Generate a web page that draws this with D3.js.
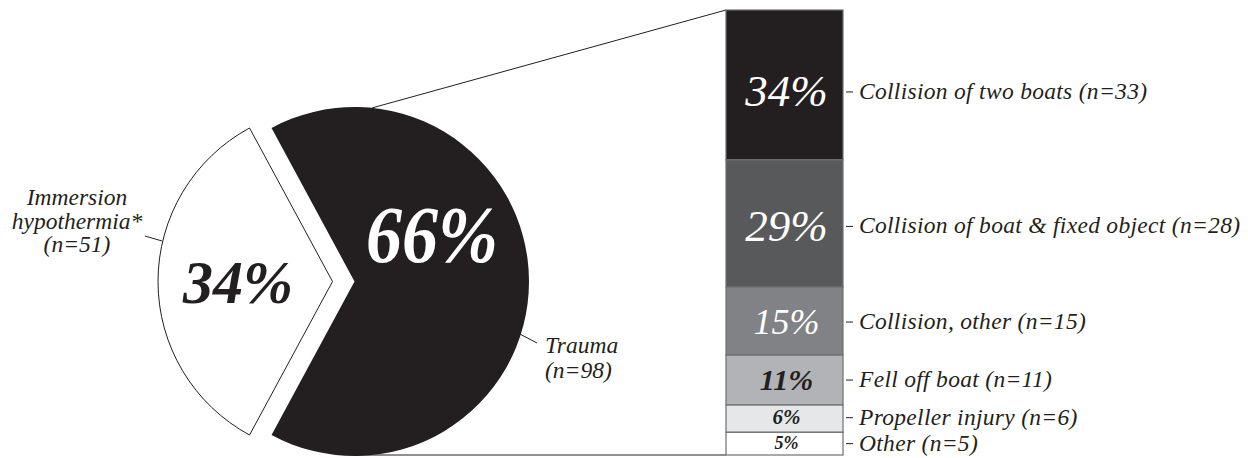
<!DOCTYPE html>
<html>
<head>
<meta charset="utf-8">
<script src="https://cdn.jsdelivr.net/npm/d3@7"></script>
<style>
  html, body { margin: 0; padding: 0; background: #fff; }
  svg { display: block; }
  text { font-family: "Liberation Serif", "DejaVu Serif", serif; font-style: italic; }
</style>
</head>
<body>
<svg id="chart" width="1248" height="458"></svg>
<script>
// Deaths by cause: immersion hypothermia vs trauma
const pieLabels = ["Immersion hypothermia*", "Trauma"];
const pieCounts = [51, 98];
const piePercents = ["34%", "66%"];

// Breakdown of trauma deaths
const traumaCauses = [
  "Collision of two boats",
  "Collision of boat & fixed object",
  "Collision, other",
  "Fell off boat",
  "Propeller injury",
  "Other"
];
const traumaCounts = [33, 28, 15, 11, 6, 5];
const traumaPercents = ["34%", "29%", "15%", "11%", "6%", "5%"];

const ink = "#231f20";
const barFills = ["#231f20", "#58595b", "#808285", "#b1b3b6", "#e6e7e8", "#ffffff"];
const barTextFills = ["#fff", "#fff", "#fff", "#231f20", "#231f20", "#231f20"];
const barFontSizes = [45, 45, 36, 30, 21, 18];
const barFontWeights = [400, 400, 400, 700, 700, 700];
const labelNudge = [7, 3, 1, 0, -1, 0];

const svg = d3.select("#chart");

// ---- Exploded pie ----
const cx = 343.5, cy = 281.5, r = 174.5, explode = 11;
const total = d3.sum(pieCounts);
const whiteShare = pieCounts[0] / total;
// centre the hypothermia slice on the left side
const start = 1.5 * Math.PI - whiteShare * Math.PI;
const pie = d3.pie().sort(null).startAngle(start).endAngle(start + 2 * Math.PI);
const arcs = pie(pieCounts);
const arc = d3.arc().innerRadius(0).outerRadius(r);

const offset = d => {
  const m = (d.startAngle + d.endAngle) / 2;
  return [explode * Math.sin(m), -explode * Math.cos(m)];
};

const slices = svg.append("g").attr("class", "pie");
slices.selectAll("path")
  .data(arcs)
  .join("path")
  .attr("transform", d => { const o = offset(d); return `translate(${cx + o[0]},${cy + o[1]})`; })
  .attr("d", arc)
  .attr("fill", (d, i) => i === 0 ? "#fff" : ink)
  .attr("stroke", ink)
  .attr("stroke-width", (d, i) => i === 0 ? 1 : 0);

// big percentages inside the slices
const pctPos = [[238, 303, 62, ink, 0.97], [432, 262, 80, "#fff", 0.9]];
slices.selectAll("text.pct")
  .data(arcs)
  .join("text")
  .attr("class", "pct")
  .attr("transform", (d, i) => `translate(${pctPos[i][0]},${pctPos[i][1]}) scale(${pctPos[i][4]},1)`)
  .attr("text-anchor", "middle")
  .attr("font-size", (d, i) => pctPos[i][2])
  .attr("font-weight", "bold")
  .attr("fill", (d, i) => pctPos[i][3])
  .text((d, i) => piePercents[i]);

// ---- Stacked bar ----
const barX0 = 726, barX1 = 843;
const y = d3.scaleLinear().domain([0, d3.sum(traumaCounts)]).range([10, 455]);
const cum = d3.cumsum(traumaCounts);
const segs = traumaCounts.map((v, i) => ({ i, y0: cum[i] - v, y1: cum[i] }));
const mid = d => (y(d.y0) + y(d.y1)) / 2;

// connector lines from the trauma slice to the bar
const black = arcs[1];
const bo = offset(black);
const bcx = cx + bo[0], bcy = cy + bo[1];
const ptOnArc = a => [bcx + r * Math.sin(a), bcy - r * Math.cos(a)];
const topPt = ptOnArc(5.8 * Math.PI / 180);
const botPt = ptOnArc(178.2 * Math.PI / 180);
svg.append("line")
  .attr("x1", topPt[0]).attr("y1", topPt[1])
  .attr("x2", barX0).attr("y2", y(0))
  .attr("stroke", ink).attr("stroke-width", 1);
svg.append("line")
  .attr("x1", botPt[0]).attr("y1", y(d3.sum(traumaCounts)))
  .attr("x2", barX0).attr("y2", y(d3.sum(traumaCounts)))
  .attr("stroke", ink).attr("stroke-width", 1);

const bar = svg.append("g").attr("class", "bar");
bar.selectAll("rect")
  .data(segs)
  .join("rect")
  .attr("x", barX0)
  .attr("width", barX1 - barX0)
  .attr("y", d => y(d.y0))
  .attr("height", d => y(d.y1) - y(d.y0))
  .attr("fill", d => barFills[d.i])
  .attr("stroke", "#6d6e71")
  .attr("stroke-width", 1.2);

bar.selectAll("text.seg")
  .data(segs)
  .join("text")
  .attr("class", "seg")
  .attr("x", (barX0 + barX1) / 2 + 2)
  .attr("y", d => mid(d) + labelNudge[d.i])
  .attr("dy", d => barFontSizes[d.i] * 0.32)
  .attr("text-anchor", "middle")
  .attr("font-size", d => barFontSizes[d.i])
  .attr("font-weight", d => barFontWeights[d.i])
  .attr("fill", d => barTextFills[d.i])
  .text(d => traumaPercents[d.i]);

// category labels with short ticks
const lab = svg.append("g").attr("class", "labels");
lab.selectAll("line")
  .data(segs)
  .join("line")
  .attr("x1", barX1 + 3).attr("x2", barX1 + 10)
  .attr("y1", d => mid(d) + labelNudge[d.i])
  .attr("y2", d => mid(d) + labelNudge[d.i])
  .attr("stroke", ink).attr("stroke-width", 1);
lab.selectAll("text")
  .data(segs)
  .join("text")
  .attr("x", barX1 + 16)
  .attr("y", d => mid(d) + labelNudge[d.i])
  .attr("dy", 7)
  .attr("font-size", 23.5)
  .attr("letter-spacing", 0.3)
  .attr("fill", ink)
  .text(d => `${traumaCauses[d.i]} (n=${traumaCounts[d.i]})`);

// pie slice labels
const hypo = svg.append("g");
const hypoLines = ["Immersion", "hypothermia*", `(n=${pieCounts[0]})`];
hypo.selectAll("text")
  .data(hypoLines)
  .join("text")
  .attr("x", 77)
  .attr("y", (d, i) => 205 + i * 23.5)
  .attr("text-anchor", "middle")
  .attr("font-size", 23.5)
  .attr("fill", ink)
  .text(d => d);
hypo.append("line")
  .attr("x1", 145).attr("y1", 236).attr("x2", 162).attr("y2", 241)
  .attr("stroke", ink).attr("stroke-width", 1);

const trauma = svg.append("g");
const traumaLines = [pieLabels[1], `(n=${pieCounts[1]})`];
trauma.selectAll("text")
  .data(traumaLines)
  .join("text")
  .attr("x", 545)
  .attr("y", (d, i) => 353 + i * 25)
  .attr("font-size", 23.5)
  .attr("fill", ink)
  .text(d => d);
trauma.append("line")
  .attr("x1", 518).attr("y1", 333).attr("x2", 537).attr("y2", 343)
  .attr("stroke", ink).attr("stroke-width", 1);
</script>
</body>
</html>
